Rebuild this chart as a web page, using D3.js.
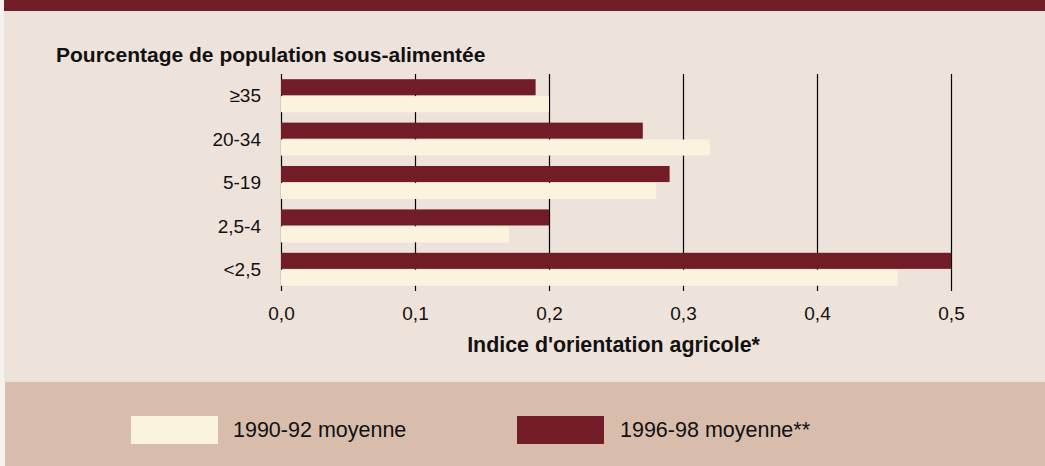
<!DOCTYPE html>
<html>
<head>
<meta charset="utf-8">
<script src="https://cdn.jsdelivr.net/npm/d3@7"></script>
<style>
  body { margin: 0; background: #f7f2ee; }
  text { font-family: "Liberation Sans", Arial, sans-serif; fill: #111; }
</style>
</head>
<body>
<div class="box"></div>
<script>
// données
const categories = ['≥35', '20-34', '5-19', '2,5-4', '<2,5'];
const series = ['1996-98 moyenne**', '1990-92 moyenne'];
const valeurs9698 = [0.19, 0.27, 0.29, 0.20, 0.50];
const valeurs9092 = [0.20, 0.32, 0.28, 0.17, 0.46];
const ticks = [0, 0.1, 0.2, 0.3, 0.4, 0.5];
const couleurs = {'1996-98 moyenne**': '#711c26', '1990-92 moyenne': '#faf4de'};

const W = 1045, H = 466;
const svg = d3.select('.box')
              .append('svg')
              .attr('width', W)
              .attr('height', H);

// fonds
svg.append('rect').attr('x', 4).attr('y', 0).attr('width', W - 4).attr('height', 382).attr('fill', '#eee3db');
svg.append('rect').attr('x', 4).attr('y', 0).attr('width', W - 4).attr('height', 11).attr('fill', '#711c26');
svg.append('rect').attr('x', 5).attr('y', 382).attr('width', W - 5).attr('height', H - 382).attr('fill', '#d8bdac');

// échelles
const x = d3.scaleLinear().domain([0, 0.5]).range([281, 951]);
const y = d3.scaleBand().domain(categories).range([74, 291]).paddingInner(0.24).paddingOuter(0.12);
const ySub = d3.scaleBand().domain(series).range([0, y.bandwidth()]).paddingInner(0.05);

const fr = d3.formatLocale({decimal: ',', thousands: ' ', grouping: [3], currency: ['', '€']});

// axe + grille
const axeX = d3.axisBottom(x).tickValues(ticks).tickFormat(fr.format('.1f')).tickSize(-(291 - 74));
const groupeX = svg.append('g').attr('transform', 'translate(0,291)').call(axeX);
groupeX.select('.domain').remove();
groupeX.selectAll('line').attr('stroke', '#000').attr('stroke-width', 1.2);
groupeX.selectAll('text')
       .attr('y', 29).attr('dy', 0)
       .style('font-family', '"Liberation Sans", Arial, sans-serif')
       .style('font-size', '19px').attr('fill', '#111');

// barres
const donnee = categories.map((c, i) => ({cat: c, vals: [
  {serie: series[0], v: valeurs9698[i]},
  {serie: series[1], v: valeurs9092[i]}
]}));

const groupes = svg.append('g').selectAll('g')
                   .data(donnee)
                   .enter().append('g')
                   .attr('transform', d => `translate(0,${y(d.cat)})`);

groupes.selectAll('rect')
       .data(d => d.vals)
       .enter().append('rect')
       .attr('x', x(0))
       .attr('y', d => ySub(d.serie))
       .attr('width', d => x(d.v) - x(0))
       .attr('height', ySub.bandwidth())
       .attr('fill', d => couleurs[d.serie]);

// étiquettes catégories
svg.append('g').selectAll('text')
   .data(categories)
   .enter().append('text')
   .attr('x', 261)
   .attr('y', d => y(d) + y.bandwidth() / 2)
   .attr('dy', '0.35em')
   .attr('text-anchor', 'end')
   .style('font-size', '19px')
   .text(d => d);

// titres
svg.append('text').attr('x', 56).attr('y', 62)
   .style('font-size', '21px').style('font-weight', 'bold')
   .text('Pourcentage de population sous-alimentée');

svg.append('text').attr('x', 613.5).attr('y', 352)
   .attr('text-anchor', 'middle')
   .style('font-size', '21.4px').style('font-weight', 'bold')
   .text("Indice d'orientation agricole*");

// légende
const legende = [
  {serie: series[1], x: 131, tx: 233},
  {serie: series[0], x: 517, tx: 620}
];
const lg = svg.append('g').selectAll('g').data(legende).enter().append('g');
lg.append('rect').attr('x', d => d.x).attr('y', 416).attr('width', 87).attr('height', 28)
  .attr('fill', d => couleurs[d.serie]);
lg.append('text').attr('x', d => d.tx).attr('y', 437)
  .style('font-size', '21.5px')
  .text(d => d.serie);
</script>
</body>
</html>
